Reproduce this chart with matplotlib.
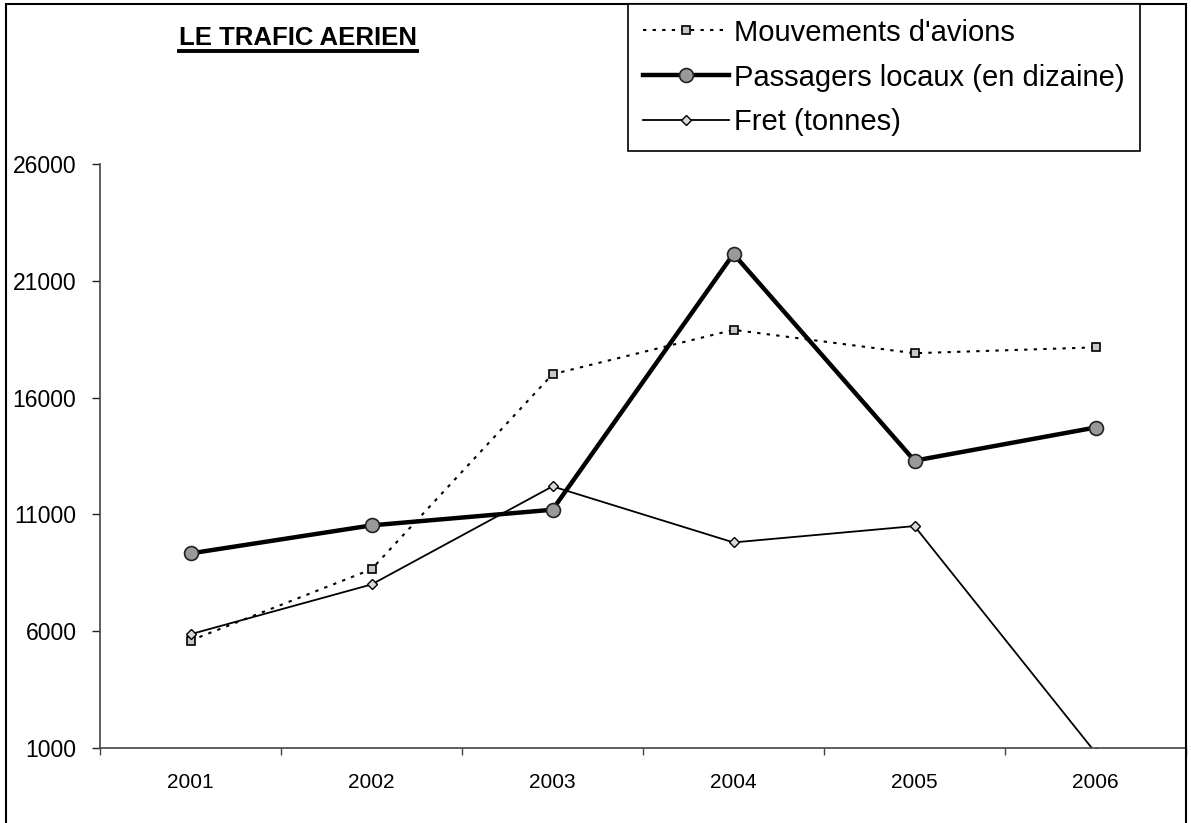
import matplotlib
matplotlib.use("Agg")
import matplotlib.pyplot as plt
from matplotlib.patches import Rectangle
from matplotlib.lines import Line2D

plt.rcParams['font.family'] = ['Liberation Sans', 'DejaVu Sans']

years = ["2001", "2002", "2003", "2004", "2005", "2006"]
mouvements = [5600, 8650, 17000, 18900, 17900, 18150]
passagers = [9330, 10530, 11200, 22150, 13300, 14720]
fret = [5870, 8000, 12200, 9800, 10500, 800]
yticks = [1000, 6000, 11000, 16000, 21000, 26000]

W, H = 1191, 823
fig = plt.figure(figsize=(W / 100, H / 100), dpi=100)
fig.patch.set_facecolor("white")

# outer chart border
fig.patches.append(Rectangle((6 / W, -0.05), (1186 - 6) / W, 1.05 - 4 / H,
                             transform=fig.transFigure, fill=False,
                             edgecolor="black", linewidth=1.5, zorder=0))

ax = fig.add_axes([100 / W, 1 - 748 / H, (1186 - 100) / W, (748 - 164) / H])
x = list(range(len(years)))

l1, = ax.plot(x, mouvements, color="black", linewidth=1.5, linestyle=(0, (1.6, 3)),
              marker="s", markersize=6, markerfacecolor="#c8c8c8",
              markeredgecolor="black", markeredgewidth=1.2, clip_on=True,
              label="Mouvements d'avions")
l2, = ax.plot(x, passagers, color="black", linewidth=3.2,
              marker="o", markersize=10, markerfacecolor="#999999",
              markeredgecolor="#222222", markeredgewidth=1.2,
              label="Passagers locaux (en dizaine)")
l3, = ax.plot(x, fret, color="black", linewidth=1.3,
              marker="D", markersize=5.5, markerfacecolor="#d8d8d8",
              markeredgecolor="black", markeredgewidth=1.0,
              label="Fret (tonnes)")

ax.set_xlim(-0.5, len(years) - 0.5)
ax.set_ylim(1000, 26000)
ax.set_yticks(yticks)
ax.set_yticklabels([str(v) for v in yticks])
ax.set_xticks(x)
ax.set_xticklabels(years)
ax.set_xticks([i - 0.5 for i in range(len(years) + 1)], minor=True)
ax.tick_params(axis="x", which="major", length=0, pad=18, labelsize=15)
ax.tick_params(axis="x", which="minor", length=5, width=1, color="#444444", direction="out")
ax.tick_params(axis="y", which="major", length=6, width=1, color="#222222",
               pad=11, labelsize=16.5)
for s in ["top", "right"]:
    ax.spines[s].set_visible(False)
for s in ["left", "bottom"]:
    ax.spines[s].set_color("#444444")
    ax.spines[s].set_linewidth(1.2)

# title with underline
base_y = 1 - 45 / H
t = fig.text(298 / W, base_y, "LE TRAFIC AERIEN", ha="center", va="baseline",
             fontsize=18.5, fontweight="bold")
fig.canvas.draw()
bb = t.get_window_extent()
uy = base_y - 6 / H
fig.add_artist(Line2D([bb.x0 / W, bb.x1 / W], [uy, uy],
                      transform=fig.transFigure, color="black", linewidth=2.8))

leg = fig.legend(handles=[l1, l2, l3], loc="upper left",
                 bbox_to_anchor=(628 / W, 1 - 4 / H), bbox_transform=fig.transFigure,
                 fontsize=21, frameon=True, fancybox=False, framealpha=1,
                 edgecolor="black", borderpad=0.5, labelspacing=0.58,
                 handlelength=2.95, handletextpad=0.2, borderaxespad=0)
leg.get_frame().set_linewidth(1.2)

fig.savefig("out.png", dpi=100, facecolor="white")
